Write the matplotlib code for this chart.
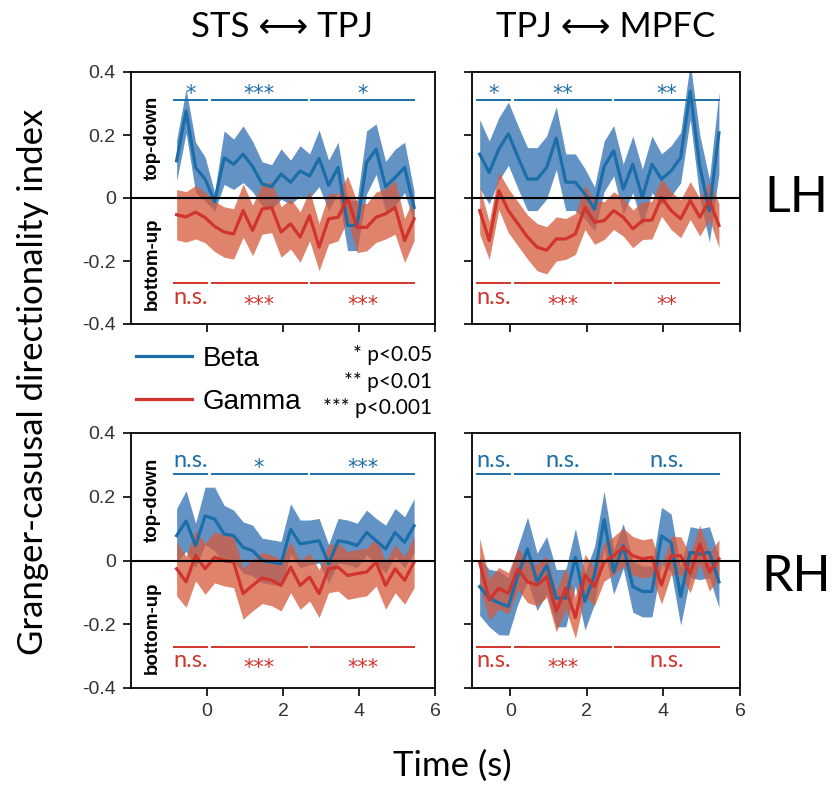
import numpy as np
import matplotlib.pyplot as plt

# sample times (s)
TIME = [-0.80, -0.55, -0.30, -0.05, 0.20, 0.45, 0.70, 0.95, 1.20, 1.45, 1.70, 1.95, 2.20,
        2.45, 2.70, 2.95, 3.20, 3.45, 3.70, 3.95, 4.20, 4.45, 4.70, 4.95, 5.20, 5.45]

# STS <-> TPJ, left hemisphere
tl_beta = [0.118, 0.276, 0.097, 0.06, -0.012, 0.128, 0.107, 0.139, 0.10, 0.045, 0.036, 0.076, 0.05,
           0.086, 0.07, 0.126, 0.04, 0.097, -0.087, -0.087, 0.113, 0.155, 0.036, 0.065, 0.097, -0.03]
tl_beta_err = [0.065, 0.07, 0.08, 0.07, 0.03, 0.085, 0.08, 0.09, 0.08, 0.07, 0.07, 0.08, 0.07,
               0.08, 0.07, 0.09, 0.08, 0.08, 0.08, 0.08, 0.1, 0.08, 0.08, 0.09, 0.08, 0.05]
tl_gamma = [-0.053, -0.06, -0.045, -0.062, -0.09, -0.108, -0.114, -0.04, -0.103, -0.035, -0.03, -0.108, -0.082,
            -0.124, -0.056, -0.156, -0.066, -0.061, 0.0, -0.093, -0.093, -0.061, -0.05, -0.03, -0.135, -0.066]
tl_gamma_err = [0.08, 0.08, 0.085, 0.08, 0.08, 0.08, 0.08, 0.085, 0.08, 0.08, 0.08, 0.08, 0.08,
                0.08, 0.08, 0.075, 0.08, 0.075, 0.07, 0.08, 0.075, 0.08, 0.08, 0.085, 0.07, 0.07]

# TPJ <-> MPFC, left hemisphere
tr_beta = [0.139, 0.081, 0.155, 0.204, 0.13, 0.06, 0.06, 0.097, 0.19, 0.05, 0.05, 0.013, -0.035,
           0.10, 0.15, 0.028, 0.107, 0.002, 0.107, 0.06, 0.086, 0.128, 0.339, 0.10, -0.04, 0.207]
tr_beta_err = [0.11, 0.1, 0.1, 0.1, 0.1, 0.1, 0.1, 0.1, 0.1, 0.09, 0.09, 0.08, 0.07,
               0.08, 0.08, 0.08, 0.09, 0.09, 0.09, 0.08, 0.08, 0.08, 0.09, 0.1, 0.1, 0.13]
tr_gamma = [-0.04, -0.135, 0.023, -0.04, -0.082, -0.124, -0.156, -0.166, -0.13, -0.13, -0.114, -0.03, -0.077,
            -0.072, -0.04, -0.061, -0.098, -0.072, -0.07, 0.002, -0.04, -0.066, -0.008, -0.061, -0.008, -0.087]
tr_gamma_err = [0.075, 0.06, 0.06, 0.07, 0.07, 0.07, 0.075, 0.075, 0.07, 0.065, 0.065, 0.07, 0.07,
                0.06, 0.06, 0.06, 0.06, 0.06, 0.06, 0.06, 0.06, 0.06, 0.06, 0.06, 0.06, 0.07]

# STS <-> TPJ, right hemisphere
bl_beta = [0.078, 0.124, 0.047, 0.14, 0.13, 0.083, 0.078, 0.041, 0.031, 0.0, -0.005, -0.01, 0.098,
           0.052, 0.057, 0.062, -0.01, 0.062, 0.057, 0.047, 0.088, 0.062, 0.036, 0.088, 0.057, 0.109]
bl_beta_err = [0.085, 0.095, 0.07, 0.09, 0.1, 0.09, 0.08, 0.08, 0.08, 0.07, 0.07, 0.07, 0.08,
               0.075, 0.07, 0.07, 0.06, 0.07, 0.07, 0.07, 0.07, 0.07, 0.075, 0.075, 0.08, 0.085]
bl_gamma = [-0.026, -0.067, 0.016, -0.026, 0.01, 0.0, -0.005, -0.104, -0.078, -0.055, -0.062, -0.078, -0.021,
            -0.078, -0.052, -0.104, -0.026, -0.021, -0.047, -0.041, -0.036, -0.005, -0.078, -0.026, -0.062, -0.005]
bl_gamma_err = [0.085, 0.08, 0.08, 0.08, 0.08, 0.08, 0.08, 0.08, 0.08, 0.08, 0.08, 0.08, 0.08,
                0.075, 0.075, 0.075, 0.075, 0.075, 0.075, 0.075, 0.075, 0.075, 0.075, 0.075, 0.075, 0.08]

# TPJ <-> MPFC, right hemisphere
br_beta = [-0.082, -0.118, -0.133, -0.144, -0.046, 0.036, -0.067, -0.015, -0.118, -0.118, 0.01, -0.128, -0.046,
           0.128, -0.036, 0.046, -0.082, -0.097, -0.097, 0.077, 0.056, -0.113, 0.026, 0.02, 0.026, -0.067]
br_beta_err = [0.09, 0.09, 0.1, 0.09, 0.09, 0.1, 0.09, 0.09, 0.09, 0.09, 0.09, 0.09, 0.09,
               0.09, 0.07, 0.07, 0.08, 0.08, 0.08, 0.09, 0.09, 0.09, 0.08, 0.08, 0.08, 0.08]
br_gamma = [-0.005, -0.123, -0.087, -0.103, -0.026, -0.067, -0.077, -0.051, -0.159, -0.087, -0.179, -0.046, -0.082,
            -0.005, 0.015, 0.041, 0.015, 0.005, 0.01, -0.077, 0.015, 0.015, -0.041, 0.051, -0.036, 0.005]
br_gamma_err = [0.075, 0.065, 0.065, 0.065, 0.065, 0.065, 0.065, 0.065, 0.065, 0.065, 0.065, 0.065, 0.06,
                0.06, 0.06, 0.06, 0.06, 0.06, 0.06, 0.06, 0.06, 0.06, 0.06, 0.06, 0.06, 0.06]

# significance windows and labels
windows = [(-0.88, 0.0), (0.12, 2.62), (2.74, 5.45)]
tl_sig = (['*', '***', '*'], ['n.s.', '***', '***'])
tr_sig = (['*', '**', '**'], ['n.s.', '***', '**'])
bl_sig = (['n.s.', '*', '***'], ['n.s.', '***', '***'])
br_sig = (['n.s.', 'n.s.', 'n.s.'], ['n.s.', '***', 'n.s.'])

BLUE = '#1c6ea9'
BLUE_FILL = '#2f6fb0'
RED = '#d0342c'
RED_FILL = '#d65a3c'
CAL = ['Lato', 'DejaVu Sans']
ARIAL = 'Liberation Sans'

W, H = 833, 788
fig = plt.figure(figsize=[W / 100, H / 100], dpi=100)


def box(l, r, t, b):
    return [l / W, 1 - b / H, (r - l) / W, (b - t) / H]


ax_tl = fig.add_axes(box(131, 435, 72, 324))
ax_tr = fig.add_axes(box(472, 740, 72, 324))
ax_bl = fig.add_axes(box(131, 435, 433, 688))
ax_br = fig.add_axes(box(472, 740, 433, 688))

panels = [
    (ax_tl, tl_beta, tl_beta_err, tl_gamma, tl_gamma_err, tl_sig, 0.31, True, False),
    (ax_tr, tr_beta, tr_beta_err, tr_gamma, tr_gamma_err, tr_sig, 0.31, False, False),
    (ax_bl, bl_beta, bl_beta_err, bl_gamma, bl_gamma_err, bl_sig, 0.27, True, True),
    (ax_br, br_beta, br_beta_err, br_gamma, br_gamma_err, br_sig, 0.27, False, True),
]


def sig_label(ax, text, x, y, color, above):
    if text.startswith('*'):
        dy = 0 if above else -20
        ax.annotate(text, xy=(x, y), xytext=(0, dy), textcoords='offset points', ha='center',
                    va='baseline', color=color, fontsize=15, family='DejaVu Sans')
    else:
        dy = 5.5 if above else -15
        ax.annotate(text, xy=(x, y), xytext=(0, dy), textcoords='offset points', ha='center',
                    va='baseline', color=color, fontsize=17, family=CAL)


t = np.array(TIME)
handles = None
for ax, b, be, g, ge, sig, ytop, left, bottom in panels:
    b, be, g, ge = map(np.array, (b, be, g, ge))
    ax.fill_between(t, b - be, b + be, color=BLUE_FILL, alpha=0.75, lw=0)
    ax.fill_between(t, g - ge, g + ge, color=RED_FILL, alpha=0.75, lw=0)
    lb, = ax.plot(t, b, color=BLUE, lw=2.3)
    lg, = ax.plot(t, g, color=RED, lw=2.3)
    handles = [lb, lg]
    ax.axhline(0, color='k', lw=1.5)

    top_labels, bot_labels = sig
    for (x0, x1), lab_t, lab_b in zip(windows, top_labels, bot_labels):
        ax.plot([x0, x1], [ytop, ytop], color=BLUE, lw=1.4)
        ax.plot([x0, x1], [-0.27, -0.27], color=RED, lw=1.4)
        xc = (x0 + x1) / 2
        sig_label(ax, lab_t, xc, ytop, BLUE, True)
        sig_label(ax, lab_b, xc, -0.27, RED, False)

    ax.set_ylim(-0.4, 0.4)
    ax.set_xlim(-2 if left else -1, 6)
    ax.set_xticks([0, 2, 4, 6])
    ax.set_yticks([-0.4, -0.2, 0, 0.2, 0.4])
    ax.set_yticklabels(['-0.4', '-0.2', '0', '0.2', '0.4'])
    ax.tick_params(direction='out', length=6, width=1.2, labelsize=14, pad=5)
    for lbl in ax.get_xticklabels() + ax.get_yticklabels():
        lbl.set_family(ARIAL)
        lbl.set_color('#333333')
    for s in ax.spines.values():
        s.set_linewidth(1.3)
    if not left:
        ax.tick_params(labelleft=False)
    else:
        ax.text(-1.45, 0.19, 'top-down', rotation=90, ha='center', va='center',
                fontsize=13.5, fontweight='bold', family=ARIAL)
        ax.text(-1.45, -0.21, 'bottom-up', rotation=90, ha='center', va='center',
                fontsize=13.5, fontweight='bold', family=ARIAL)
    if not bottom:
        ax.tick_params(labelbottom=False)

fig.text(282 / W, 1 - 27 / H, 'STS \u27f7 TPJ', ha='center', va='center', fontsize=25, family=CAL)
fig.text(606 / W, 1 - 27 / H, 'TPJ \u27f7 MPFC', ha='center', va='center', fontsize=25, family=CAL)
fig.text(796 / W, 1 - 198 / H, 'LH', ha='center', va='center', fontsize=36, family=CAL)
fig.text(796 / W, 1 - 577 / H, 'RH', ha='center', va='center', fontsize=36, family=CAL)
fig.text(33 / W, 1 - 382 / H, 'Granger-casusal directionality index', rotation=90,
         ha='center', va='center', fontsize=25, family=CAL)
fig.text(452 / W, 1 - 766 / H, 'Time (s)', ha='center', va='center', fontsize=25, family=CAL)

fig.legend(handles, ['Beta', 'Gamma'], loc='upper left', bbox_to_anchor=(136 / W, 1 - 346 / H),
           frameon=False, prop={'family': ARIAL, 'size': 20}, handlelength=2.0,
           handletextpad=0.4, labelspacing=0.6, borderpad=0, borderaxespad=0)
fig.text(432 / W, 1 - 355 / H, '* p<0.05', ha='right', va='center', fontsize=15, family=CAL)
fig.text(432 / W, 1 - 382 / H, '** p<0.01', ha='right', va='center', fontsize=15, family=CAL)
fig.text(432 / W, 1 - 408 / H, '*** p<0.001', ha='right', va='center', fontsize=15, family=CAL)

fig.savefig('out.png', dpi=100)
